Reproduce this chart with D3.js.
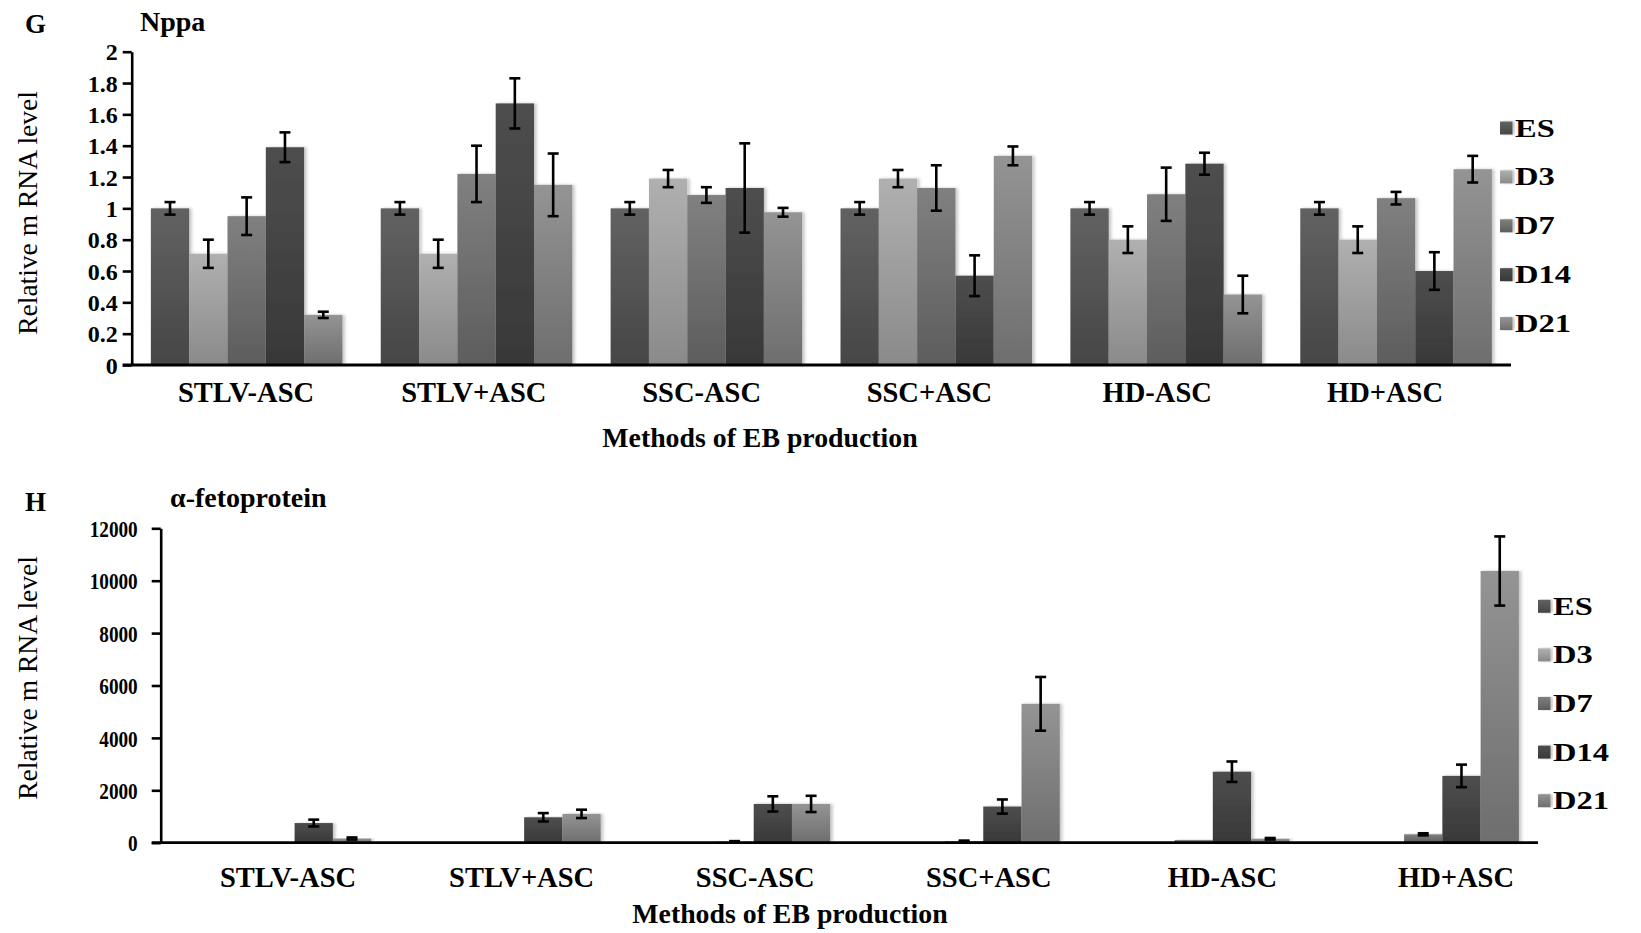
<!DOCTYPE html>
<html>
<head>
<meta charset="utf-8">
<script src="https://cdn.jsdelivr.net/npm/d3@7"></script>
<style>
  html, body { margin: 0; padding: 0; background: #fff; }
  svg { display: block; }
  text { font-family: "Liberation Serif", "Times New Roman", serif; fill: #000; }
</style>
</head>
<body>
<svg id="chart" width="1641" height="933"></svg>
<script>
// Methods of embryoid body production and time points
const categories = ["STLV-ASC", "STLV+ASC", "SSC-ASC", "SSC+ASC", "HD-ASC", "HD+ASC"];
const seriesNames = ["ES", "D3", "D7", "D14", "D21"];

// Nppa relative mRNA level (mean and error)
const nppaES   = [1, 1, 1, 1, 1, 1];
const nppaD3   = [0.71, 0.71, 1.19, 1.19, 0.80, 0.80];
const nppaD7   = [0.95, 1.22, 1.085, 1.13, 1.09, 1.065];
const nppaD14  = [1.39, 1.67, 1.13, 0.57, 1.285, 0.60];
const nppaD21  = [0.32, 1.15, 0.975, 1.335, 0.45, 1.25];
const nppaErrES  = [0.04, 0.04, 0.04, 0.04, 0.04, 0.04];
const nppaErrD3  = [0.09, 0.09, 0.055, 0.055, 0.085, 0.085];
const nppaErrD7  = [0.12, 0.18, 0.05, 0.145, 0.17, 0.04];
const nppaErrD14 = [0.095, 0.16, 0.285, 0.13, 0.07, 0.12];
const nppaErrD21 = [0.02, 0.20, 0.028, 0.06, 0.12, 0.085];
const nppaTicks = ["0", "0.2", "0.4", "0.6", "0.8", "1", "1.2", "1.4", "1.6", "1.8", "2"];

// alpha-fetoprotein relative mRNA level (mean and error)
const afpES   = [1, 1, 1, 1, 1, 1];
const afpD3   = [3, 5, 6, 8, 10, 15];
const afpD7   = [10, 15, 40, 60, 100, 320];
const afpD14  = [750, 970, 1480, 1380, 2710, 2550];
const afpD21  = [160, 1100, 1480, 5300, 150, 10370];
const afpErrES  = [0, 0, 0, 0, 0, 0];
const afpErrD3  = [0, 0, 0, 0, 0, 0];
const afpErrD7  = [0, 0, 20, 20, 0, 40];
const afpErrD14 = [130, 160, 290, 270, 390, 430];
const afpErrD21 = [40, 160, 310, 1025, 30, 1320];
const afpTicks = ["0", "2000", "4000", "6000", "8000", "10000", "12000"];

// Gradient fills per series: [top, bottom]
const seriesColors = [
  ["#626262", "#464646"],
  ["#b0b0b0", "#8a8a8a"],
  ["#808080", "#5d5d5d"],
  ["#4e4e4e", "#383838"],
  ["#949494", "#6e6e6e"]
];

const svg = d3.select("#chart");
const defs = svg.append("defs");

seriesNames.forEach((s, i) => {
  const g = defs.append("linearGradient")
    .attr("id", "grad" + i)
    .attr("x1", 0).attr("y1", 0).attr("x2", 0).attr("y2", 1);
  g.append("stop").attr("offset", "0%").attr("stop-color", seriesColors[i][0]);
  g.append("stop").attr("offset", "100%").attr("stop-color", seriesColors[i][1]);
});

const shadow = defs.append("filter").attr("id", "barShadow")
  .attr("x", "-10%").attr("y", "-5%").attr("width", "130%").attr("height", "110%");
shadow.append("feDropShadow")
  .attr("dx", 2.5).attr("dy", 0).attr("stdDeviation", 1.6)
  .attr("flood-color", "#000").attr("flood-opacity", 0.22);

function drawPanel(cfg) {
  const g = svg.append("g");
  const values = cfg.values;
  const errors = cfg.errors;

  const x0 = d3.scaleBand()
    .domain(categories)
    .range([cfg.left, cfg.right])
    .paddingInner(1 / 6)
    .paddingOuter(1 / 12);
  const x1 = d3.scaleBand()
    .domain(seriesNames)
    .range([0, x0.bandwidth()]);
  const y = d3.scaleLinear()
    .domain([0, cfg.max])
    .range([cfg.base, cfg.top]);
  // label positions along the category axis
  const xl = d3.scalePoint()
    .domain(categories)
    .range(cfg.labelRange);

  // bars
  const groups = g.selectAll("g.grp")
    .data(categories)
    .join("g")
    .attr("class", "grp")
    .attr("transform", c => `translate(${x0(c)},0)`);

  groups.each(function (c, ci) {
    const grp = d3.select(this);
    seriesNames.forEach((s, si) => {
      const v = values[si][ci];
      grp.append("rect")
        .attr("x", x1(s))
        .attr("y", y(v))
        .attr("width", x1.bandwidth())
        .attr("height", Math.max(0, y(0) - y(v)))
        .attr("fill", `url(#grad${si})`)
        .attr("filter", "url(#barShadow)");
    });
  });

  // error bars
  groups.each(function (c, ci) {
    const grp = d3.select(this);
    seriesNames.forEach((s, si) => {
      const v = values[si][ci];
      const e = errors[si][ci];
      if (!e) return;
      const cx = x1(s) + x1.bandwidth() / 2;
      const capW = 5.5;
      const eb = grp.append("g")
        .attr("stroke", "#000")
        .attr("stroke-width", 2.6)
        .attr("fill", "none");
      eb.append("line").attr("x1", cx).attr("x2", cx).attr("y1", y(v + e)).attr("y2", y(v - e));
      eb.append("line").attr("x1", cx - capW).attr("x2", cx + capW).attr("y1", y(v + e)).attr("y2", y(v + e));
      eb.append("line").attr("x1", cx - capW).attr("x2", cx + capW).attr("y1", y(v - e)).attr("y2", y(v - e));
    });
  });

  // y axis
  const tickVals = cfg.tickLabels.map(t => +t);
  const yAxis = d3.axisLeft(y)
    .tickValues(tickVals)
    .tickFormat((d, i) => cfg.tickLabels[i])
    .tickSize(9)
    .tickSizeOuter(0)
    .tickPadding(cfg.tickPad);
  const ya = g.append("g")
    .attr("transform", `translate(${cfg.left},0)`)
    .call(yAxis);
  ya.select(".domain").attr("stroke", "#000").attr("stroke-width", 2.6);
  ya.selectAll(".tick line").attr("stroke", "#000").attr("stroke-width", 2.6);
  ya.selectAll(".tick text")
    .attr("font-family", "Liberation Serif, serif")
    .attr("font-weight", "bold")
    .attr("font-size", cfg.tickFont)
    .attr("fill", "#000")
    .attr("dy", "0.34em")
    .attr("x", -(9 + cfg.tickPad) / cfg.tickScale)
    .attr("transform", `scale(${cfg.tickScale},1)`);

  // x axis line
  g.append("line")
    .attr("x1", cfg.left - 9).attr("x2", cfg.right)
    .attr("y1", cfg.base).attr("y2", cfg.base)
    .attr("stroke", "#000").attr("stroke-width", 2.8);

  // category labels
  g.selectAll("text.cat")
    .data(categories)
    .join("text")
    .attr("class", "cat")
    .attr("x", c => xl(c))
    .attr("y", cfg.catBaseline)
    .attr("text-anchor", "middle")
    .attr("font-weight", "bold")
    .attr("font-size", 28.5)
    .text(c => c);

  // x axis title
  g.append("text")
    .attr("x", cfg.xTitleX)
    .attr("y", cfg.xTitleY)
    .attr("text-anchor", "middle")
    .attr("font-weight", "bold")
    .attr("font-size", 27.8)
    .text("Methods of EB production");

  // y axis title
  g.append("text")
    .attr("transform", `translate(37,${cfg.yTitleY}) rotate(-90)`)
    .attr("text-anchor", "middle")
    .attr("font-size", 27.5)
    .text("Relative m RNA level");

  // panel letter and gene name
  g.append("text")
    .attr("x", 25).attr("y", cfg.letterY)
    .attr("font-weight", "bold").attr("font-size", 27)
    .text(cfg.letter);
  g.append("text")
    .attr("x", cfg.titleX).attr("y", cfg.titleY)
    .attr("font-weight", "bold").attr("font-size", 28)
    .text(cfg.title);

  // legend
  const lg = g.append("g");
  seriesNames.forEach((s, i) => {
    const cy = cfg.legendY + i * cfg.legendStep;
    lg.append("rect")
      .attr("x", cfg.legendX).attr("y", cy - 6.5)
      .attr("width", 12.5).attr("height", 13)
      .attr("fill", `url(#grad${i})`)
      .attr("filter", "url(#barShadow)");
    lg.append("g")
      .attr("transform", `translate(${cfg.legendX + 15},${cy + 8.5}) scale(1.3,1)`)
      .append("text")
      .attr("x", 0).attr("y", 0)
      .attr("font-weight", "bold").attr("font-size", 25)
      .text(s);
  });
}

drawPanel({
  values: [nppaES, nppaD3, nppaD7, nppaD14, nppaD21],
  errors: [nppaErrES, nppaErrD3, nppaErrD7, nppaErrD14, nppaErrD21],
  tickLabels: nppaTicks,
  max: 2,
  left: 131.7, right: 1511,
  base: 365, top: 51.7,
  tickPad: 5, tickFont: 24, tickScale: 1,
  labelRange: [246, 1385],
  catBaseline: 401.5,
  xTitleX: 760, xTitleY: 447,
  yTitleY: 213,
  letter: "G", letterY: 32.5,
  title: "Nppa", titleX: 140, titleY: 31,
  legendX: 1500, legendY: 128, legendStep: 48.9
});

drawPanel({
  values: [afpES, afpD3, afpD7, afpD14, afpD21],
  errors: [afpErrES, afpErrD3, afpErrD7, afpErrD14, afpErrD21],
  tickLabels: afpTicks,
  max: 12000,
  left: 160.7, right: 1538,
  base: 842.7, top: 528.3,
  tickPad: 14, tickFont: 24, tickScale: 0.8,
  labelRange: [288, 1456],
  catBaseline: 886.5,
  xTitleX: 790, xTitleY: 923,
  yTitleY: 678,
  letter: "H", letterY: 510.5,
  title: "\u03b1-fetoprotein", titleX: 170, titleY: 507,
  legendX: 1538, legendY: 606.3, legendStep: 48.6
});
</script>
</body>
</html>
